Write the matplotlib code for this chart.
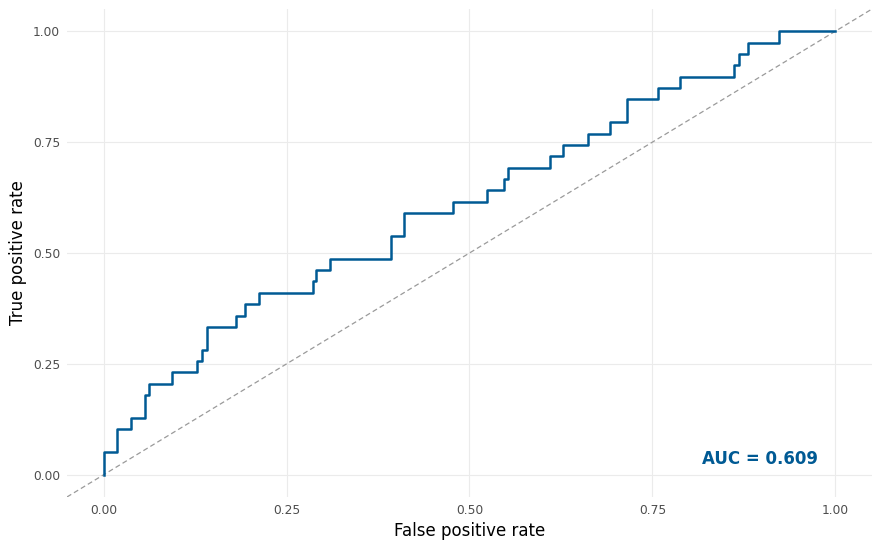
import matplotlib
matplotlib.use("Agg")
import matplotlib.pyplot as plt
import numpy as np

# ROC curve points (jump locations and new TPR after jump)
fpr = [0, 0, 0.0178, 0.038, 0.056, 0.0615, 0.093, 0.127, 0.135, 0.142, 0.181,
       0.193, 0.212, 0.286, 0.290, 0.309, 0.393, 0.410, 0.477, 0.524, 0.547,
       0.553, 0.610, 0.628, 0.662, 0.692, 0.715, 0.758, 0.788, 0.862, 0.868,
       0.880, 0.923, 1.0]
tp_count = [0, 2, 4, 5, 7, 8, 9, 10, 11, 13, 14, 15, 16, 17, 18, 19, 21, 23,
            24, 25, 26, 27, 28, 29, 30, 31, 33, 34, 35, 36, 37, 38, 39, 39]
n_pos = 39
tpr = [c / n_pos for c in tp_count]

ticks = [0.0, 0.25, 0.5, 0.75, 1.0]
tick_labels = ["0.00", "0.25", "0.50", "0.75", "1.00"]
auc_text = "AUC = 0.609"

blue = "#005A94"

fig = plt.figure(figsize=(8.8, 5.5), dpi=100)
ax = fig.add_axes([0.0761, 0.0964, 0.9909 - 0.0761, 0.9836 - 0.0964])

ax.set_xlim(-0.05, 1.05)
ax.set_ylim(-0.05, 1.05)

# diagonal reference line across full panel
ax.plot([-0.05, 1.05], [-0.05, 1.05], color="#9a9a9a", lw=0.9,
        linestyle=(0, (4, 2.5)), zorder=2)

ax.step(fpr, tpr, where="post", color=blue, lw=1.8, zorder=3)

ax.text(0.897, 0.035, auc_text, color=blue, fontsize=12, fontweight="bold",
        ha="center", va="center", zorder=4)

ax.set_xticks(ticks)
ax.set_xticklabels(tick_labels)
ax.set_yticks(ticks)
ax.set_yticklabels(tick_labels)
ax.tick_params(axis="both", length=0, labelsize=8.8, colors="#4d4d4d", pad=5)
ax.grid(True, color="#ebebeb", lw=0.8, zorder=0)
ax.set_axisbelow(True)
for s in ax.spines.values():
    s.set_visible(False)

ax.set_xlabel("False positive rate", fontsize=12, color="black", labelpad=4)
ax.set_ylabel("True positive rate", fontsize=12, color="black", labelpad=4)

fig.savefig("out.png", dpi=100, facecolor="white")
